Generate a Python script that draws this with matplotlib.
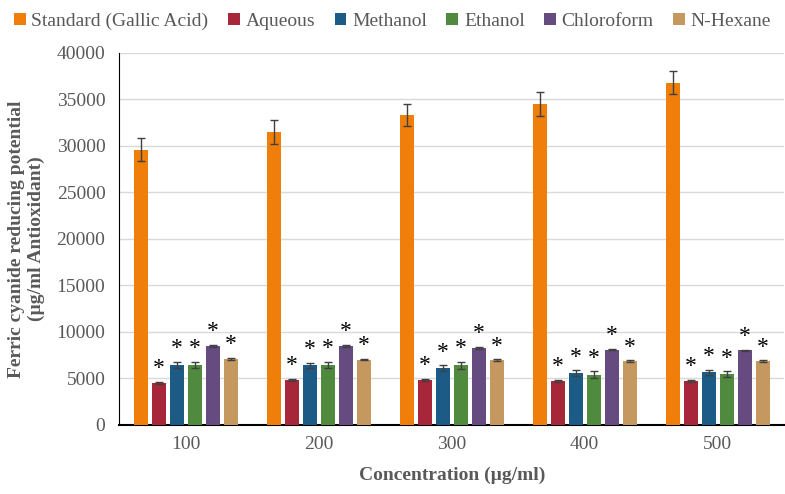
import numpy as np
import matplotlib.pyplot as plt

concentrations = ["100", "200", "300", "400", "500"]
series_names = ["Standard (Gallic Acid)", "Aqueous", "Methanol", "Ethanol", "Chloroform", "N-Hexane"]

standard = [29600, 31500, 33300, 34500, 36800]
aqueous = [4500, 4800, 4800, 4750, 4700]
methanol = [6450, 6400, 6100, 5550, 5650]
ethanol = [6450, 6450, 6400, 5400, 5450]
chloroform = [8500, 8500, 8300, 8100, 8000]
hexane = [7100, 7000, 6950, 6850, 6850]

standard_err = [1250, 1250, 1200, 1250, 1250]
aqueous_err = [100, 100, 100, 100, 100]
methanol_err = [300, 300, 300, 300, 250]
ethanol_err = [350, 350, 350, 350, 300]
chloroform_err = [100, 100, 100, 100, 100]
hexane_err = [80, 80, 80, 80, 80]

colors = ["#EF7F0A", "#A82639", "#1B5B86", "#4F8A3F", "#654B7F", "#C4985E"]

values = [standard, aqueous, methanol, ethanol, chloroform, hexane]
errors = [standard_err, aqueous_err, methanol_err, ethanol_err, chloroform_err, hexane_err]

plt.rcParams["font.family"] = ["Liberation Serif", "DejaVu Serif"]

fig = plt.figure(figsize=(7.85, 4.94), dpi=100)
ax = fig.add_axes([0.152, 0.140, 0.847, 0.753])

x = np.arange(len(concentrations))
width = 0.105
step = 0.135

for i, (name, vals, errs, c) in enumerate(zip(series_names, values, errors, colors)):
    pos = x + (i - 2.5) * step
    ax.bar(pos, vals, width, color=c, label=name, zorder=3,
           yerr=errs, capsize=3,
           error_kw=dict(ecolor="#404040", elinewidth=1, capthick=1, zorder=4))
    if i > 0:
        # significance markers
        for p, v, e in zip(pos, vals, errs):
            ax.annotate("*", (p, v + e), xytext=(0, 2), textcoords="offset points",
                        ha="center", va="bottom", fontsize=17, color="black")

ax.set_xlim(-0.5, len(concentrations) - 0.5)
ax.set_ylim(0, 40000)
ax.set_yticks(np.arange(0, 40001, 5000))
ax.set_xticks(x)
ax.set_xticklabels(concentrations)
ax.tick_params(axis="both", length=0, labelsize=14, colors="#595959", pad=8)
ax.tick_params(axis="y", pad=10)
ax.yaxis.grid(True, color="#D9D9D9", linewidth=1, zorder=0)
ax.set_axisbelow(True)

for s in ["top", "right"]:
    ax.spines[s].set_visible(False)
ax.spines["left"].set_color("black")
ax.spines["bottom"].set_color("black")
ax.spines["bottom"].set_linewidth(1.5)

ax.set_ylabel("Ferric cyanide reducing potential\n(µg/ml Antioxidant)",
              fontsize=14, fontweight="bold", color="#595959", labelpad=8)
ax.set_xlabel("Concentration (µg/ml)", fontsize=14, fontweight="bold",
              color="#595959", labelpad=10)

fig.legend(loc="upper center", bbox_to_anchor=(0.5, 1.01), ncol=6, frameon=False,
           fontsize=14, handlelength=0.6, handleheight=0.6, handletextpad=0.3,
           columnspacing=1.0, labelcolor="#595959")

plt.savefig("out.png", dpi=100)
